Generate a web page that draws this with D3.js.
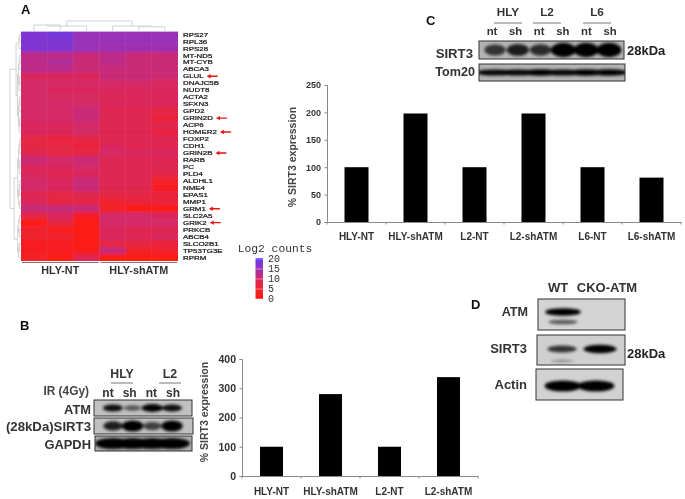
<!DOCTYPE html>
<html><head><meta charset="utf-8">
<script src="https://cdn.jsdelivr.net/npm/d3@7"></script>
<style>
html,body{margin:0;padding:0;background:#fff}
svg{display:block;font-family:"Liberation Sans",Arial,sans-serif}
</style></head><body><svg id="c" width="685" height="499"></svg>
<script>
// ---------- data ----------
const genes=["RPS27","RPL36","RPS28","MT-ND5","MT-CYB","ABCA3","GLUL","DNAJC5B","NUDT8","ACTA2","SFXN3","GPD2","GRIN2D","ACP6","HOMER2","FOXP2","CDH1","GRIN2B","RARB","PC","PLD4","ALDHL1","NME4","EPAS1","MMP1","GRM1","SLC2A5","GRIK2","PRKCB","ABCB4","SLCO2B1","TP53TG3E","RPRM"];
const flagged=["GLUL","GRIN2D","HOMER2","GRIN2B","GRM1","GRIK2"];
const counts=[
[17,18,15,15,15,15],[17,17,15,15,15,15],[17,17,15,14.5,14.5,14.5],[12,12,11,12,11,11],[12,13,11,12,11,11],[12,12,11,11,11,11],
[9,9,9,11,11,10.5],[10,10,10,10,10,9.5],[10,9,9,9,9,9],[10,9.5,9.5,8.5,9,9],[10,10,10,9,9,9],[10,10,11,8,8,7],
[10,10,11,8,8,6],[9,9,10,8,8,7.5],[9,9,10,8,8,6.5],[7,6,7,8,8,8],[7,7,6,9,8,8],[8,7,7,10,9,9],
[11,10,11,8,8,8],[9,9,10,8,8,8],[9,8,9,8,8,7.5],[10,9,11,8,8,4],[10,9,11,8,8,3],[8,7,8,7,7,6],
[9,7,7,5,6,6],[11,11,11,4,1,1],[7,9,3,10,10,9],[1,7,1,10,10,10],[5,2,1,9,8,8],[5,5,1,9,8,9],
[3,3,1,7,7,6],[3,3,2,11,4,5],[4,1,8,1,1,1]];
const colGroups=["HLY-NT","HLY-shATM"];
const legendTicks=[20,15,10,5,0];
const catC=["HLY-NT","HLY-shATM","L2-NT","L2-shATM","L6-NT","L6-shATM"];
const valC=[100,198,100,198,100,81];
const catB=["HLY-NT","HLY-shATM","L2-NT","L2-shATM"];
const valB=[100,280,100,338];
const ticksC=[0,50,100,150,200,250];
const ticksB=[0,100,200,300,400];
const laneNames=["nt","sh"];
const blotB_ATM=[.8,.35,1,.8], blotB_SIRT3=[.7,1,.5,1], blotB_GAPDH=[1,1,1,1];
const blotC_SIRT3=[.55,.7,.6,1,1,1], blotC_Tom20=[.85,.85,1,.85,.9,.9];
const blotD_ATM=[1,0], blotD_ATMlow=[.4,0], blotD_SIRT3=[.6,.95], blotD_SIRT3low=[.12,0], blotD_Actin=[1,1];

// ---------- setup ----------
const svg=d3.select("#c");
const defs=svg.append("defs");
const mkBlur=(id,s)=>defs.append("filter").attr("id",id).attr("x","-20%").attr("y","-60%").attr("width","140%").attr("height","220%").append("feGaussianBlur").attr("stdDeviation",s);
mkBlur("soft",0.45);mkBlur("band",1.5);mkBlur("heat",1.3);
const root=svg.append("g").attr("filter","url(#soft)");
const ink="#222";
function text(x,y,s,o={}){return root.append("text").attr("x",x).attr("y",y).attr("dominant-baseline","central")
  .attr("text-anchor",o.a||"start").attr("font-size",o.s||10).attr("font-weight",o.w||"bold").attr("fill",o.c||ink)
  .attr("font-family",o.f||null).attr("transform",o.r?`rotate(${o.r} ${x} ${y})`:null).text(s);}

// ---------- panel A ----------
[["A",21,9],["B",20,325],["C",426,20],["D",471,304]].forEach(d=>text(d[1],d[2],d[0],{s:13,c:"#111"}));
const hx=d3.scaleBand().domain(d3.range(6)).range([21,178]);
const hy=d3.scaleBand().domain(genes).range([31,261]);
const heat=d3.scaleLinear().domain([0,5,10,15,20]).range(["#ff1a0c","#f0222e","#d42a68","#9a30b8","#5a3cf5"]);
defs.append("clipPath").attr("id","hclip").append("rect").attr("x",21).attr("y",31).attr("width",157).attr("height",230);
const hg=root.append("g").attr("clip-path","url(#hclip)").append("g").attr("filter","url(#heat)");
// bleed rows past the clip so the blur does not fade the outer edge
hg.append("rect").attr("x",15).attr("y",25).attr("width",169).attr("height",242).attr("fill","#c02a80");
genes.forEach((g,i)=>{
  hg.append("g").selectAll("rect").data(counts[i]).join("rect")
    .attr("x",(d,j)=>hx(j)-(j===0?6:0)).attr("y",hy(g)-(i===0?6:0))
    .attr("width",(d,j)=>hx.bandwidth()+.5+(j===0||j===5?6:0)).attr("height",hy.bandwidth()+.5+(i===0||i===32?6:0))
    .attr("fill",d=>heat(d));
});
// faint cell grid
root.append("g").selectAll("line").data(d3.range(1,6)).join("line").attr("x1",d=>hx(d)).attr("x2",d=>hx(d)).attr("y1",31).attr("y2",261).attr("stroke","#fff").attr("stroke-opacity",.1).attr("stroke-width",.7);
root.append("g").selectAll("line").data(genes.slice(1)).join("line").attr("y1",d=>hy(d)).attr("y2",d=>hy(d)).attr("x1",21).attr("x2",178).attr("stroke","#fff").attr("stroke-opacity",.05).attr("stroke-width",.6);
root.append("rect").attr("x",21).attr("y",31).attr("width",157).attr("height",1).attr("fill","#c9b0f0");
const labelScale=1.32;
const geneLabels=root.append("g").selectAll("text").data(genes).join("text")
  .attr("transform",d=>`translate(183,${hy(d)+hy.bandwidth()/2}) scale(${labelScale},1)`)
  .attr("dominant-baseline","central").attr("font-size",6).attr("fill","#222").attr("stroke","#222").attr("stroke-width",.25).text(d=>d);
flagged.forEach(g=>{
  const y=hy(g)+hy.bandwidth()/2;
  const node=geneLabels.filter(d=>d===g).node();
  const x=183+node.getComputedTextLength()*labelScale+3;
  root.append("path").attr("d",`M${x} ${y}l4 -2.2v1.5h7v1.4h-7v1.5z`).attr("fill","#e8150f");
});
// dendrograms: a node is a leaf index, or {k:[a,b],h}
function drawTree(n,pos,hgt,horizontal){
  if(typeof n==="number")return {p:pos(n),h:0};
  const a=drawTree(n.k[0],pos,hgt,horizontal),b=drawTree(n.k[1],pos,hgt,horizontal);
  const path=horizontal
    ?`M${a.p} ${hgt(a.h)}V${hgt(n.h)}H${b.p}V${hgt(b.h)}`
    :`M${hgt(a.h)} ${a.p}H${hgt(n.h)}V${b.p}H${hgt(b.h)}`;
  root.append("path").attr("d",path).attr("fill","none").attr("stroke","#cdcdcd").attr("stroke-width",.9);
  return {p:(a.p+b.p)/2,h:n.h};
}
const colTree={h:1,k:[{h:.5,k:[{h:.6,k:[0,1]},2]},{h:.5,k:[3,{h:.42,k:[4,5]}]}]};
const bal=(a,b,h)=>{if(a===b)return a;const m=Math.floor((a+b)/2);return {h,k:[bal(a,m,h*.72),bal(m+1,b,h*.72)]};};
const rowTree={h:1,k:[{h:.45,k:[bal(0,2,.2),bal(3,14,.32)]},{h:.62,k:[bal(15,25,.3),bal(26,32,.3)]}]};
drawTree(colTree,j=>hx(j)+hx.bandwidth()/2,d3.scaleLinear().domain([0,1]).range([31,21]),true);
drawTree(rowTree,i=>hy(genes[i])+hy.bandwidth()/2,d3.scaleLinear().domain([0,1]).range([21,10]),false);
// column group bars and labels
colGroups.forEach((g,i)=>{
  const a=hx(i*3),b=hx(i*3+2)+hx.bandwidth();
  root.append("line").attr("x1",a+1).attr("x2",b-1).attr("y1",262.5).attr("y2",262.5).attr("stroke","#777").attr("stroke-width",1.2);
  text((a+b)/2,269.5,g,{a:"middle",s:10.8,c:"#333"});
});
// legend
const lg=defs.append("linearGradient").attr("id","lg").attr("x1",0).attr("x2",0).attr("y1",0).attr("y2",1);
legendTicks.forEach((v,i)=>lg.append("stop").attr("offset",i/4).attr("stop-color",heat(v)));
const ly=d3.scalePoint().domain(legendTicks).range([259,299]);
root.append("rect").attr("x",255.5).attr("y",258).attr("width",7.5).attr("height",41).attr("fill","url(#lg)");
text(275,249,"Log2 counts",{a:"middle",s:11.3,w:"normal",f:"'Liberation Mono',monospace",c:"#333"});
legendTicks.forEach(v=>{
  text(268,ly(v),v,{s:10,w:"normal",f:"'Liberation Mono',monospace",c:"#333"});
  root.append("line").attr("x1",254).attr("x2",265).attr("y1",ly(v)).attr("y2",ly(v)).attr("stroke","#fff").attr("stroke-opacity",.6).attr("stroke-width",.7);
});

// ---------- bar charts ----------
function bars(cats,vals,ticks,x0,x1,yTop,yBot,yMax,bw,labY,titleX,titleY,tickSize){
  const x=d3.scaleBand().domain(cats).range([x0,x1]);
  const y=d3.scaleLinear().domain([0,yMax]).range([yBot,yTop]);
  root.append("g").selectAll("rect").data(vals).join("rect")
    .attr("x",(d,i)=>x(cats[i])+(x.bandwidth()-bw)/2).attr("y",d=>y(d)).attr("width",bw).attr("height",d=>yBot-y(d)).attr("fill","#000");
  const ax=root.append("g").attr("transform",`translate(0,${yBot})`).call(d3.axisBottom(x).tickValues([]).tickSize(0));
  ax.select(".domain").attr("stroke","#888").attr("stroke-width",1);
  const grid=d3.range(cats.length+1).map(i=>x0+i*x.step());
  root.append("g").selectAll("line").data(grid).join("line").attr("x1",d=>d).attr("x2",d=>d).attr("y1",yBot).attr("y2",yBot+2.5).attr("stroke","#888");
  const ay=root.append("g").attr("transform",`translate(${x0},0)`).call(d3.axisLeft(y).tickValues(ticks).tickSize(2.5).tickFormat(d3.format("d")));
  ay.selectAll(".domain,line").attr("stroke","#888");
  ay.select(".domain").attr("stroke-width",1);
  ay.selectAll("text").attr("font-size",tickSize).attr("font-weight","bold").attr("fill","#333").attr("font-family","Liberation Sans").attr("dy","0.32em").attr("x",-6);
  cats.forEach(c=>text(x(c)+x.bandwidth()/2,labY,c,{a:"middle",s:10,c:"#333"}));
  text(titleX,titleY,"% SIRT3 expression",{a:"middle",s:10.5,r:-90,c:"#444"});
}
bars(catC,valC,ticksC,327,681,85,222,250,24,236,292,157,9);
bars(catB,valB,ticksB,242,478,359,476,400,23,491,204,412,10.5);

// ---------- western blots ----------
function blot(x0,x1,y0,y1,laneA,laneB,vals,o={}){
  const n=vals.length;
  const lx=d3.scaleLinear().domain([0,n-1]).range([laneA,laneB]);
  const id="clip"+Math.round(x0)+"_"+Math.round(y0);
  defs.append("clipPath").attr("id",id).append("rect").attr("x",x0).attr("y",y0).attr("width",x1-x0).attr("height",y1-y0);
  const g=root.append("g");
  g.append("rect").attr("x",x0).attr("y",y0).attr("width",x1-x0).attr("height",y1-y0).attr("fill",o.bg||"#c0c0c0");
  const inner=g.append("g").attr("clip-path",`url(#${id})`).append("g").attr("filter","url(#band)");
  const w=o.w||(Math.abs(laneB-laneA)/(n-1))*.98;
  const layer=(vs,cy,h)=>inner.append("g").selectAll("ellipse").data(vs).join("ellipse")
    .attr("cx",(d,i)=>lx(i)).attr("cy",cy)
    .attr("rx",d=>w*(.38+.18*d)).attr("ry",d=>h*(.55+.55*d))
    .attr("fill","#050505").attr("opacity",d=>d===0?0:Math.min(1,.25+.85*d));
  if(o.low)layer(o.low,o.lowY,o.lowH||3);
  layer(vals,o.cy!==undefined?o.cy:(y0+y1)/2,o.h||5);
  g.append("rect").attr("x",x0).attr("y",y0).attr("width",x1-x0).attr("height",y1-y0).attr("fill","none").attr("stroke","#333").attr("stroke-width",1);
}
function laneLabels(a,b,n,y,s){
  const lx=d3.scaleLinear().domain([0,n-1]).range([a,b]);
  d3.range(n).forEach(i=>text(lx(i),y,laneNames[i%2],{a:"middle",s:s,c:"#333"}));
}
function group(name,cx,y,lineY,half,s){
  text(cx,y,name,{a:"middle",s:s,c:"#333"});
  root.append("line").attr("x1",cx-half).attr("x2",cx+half).attr("y1",lineY).attr("y2",lineY).attr("stroke","#777").attr("stroke-width",1);
}
// B
group("HLY",122,374,383,11,12.3);group("L2",170,374,383,11,12.3);
text(89,391,"IR (4Gy)",{a:"end",s:11.9,c:"#444"});
laneLabels(108,173,4,393,12);
blot(94,192,400,416,113,172,blotB_ATM,{h:3.6});
blot(94,193,418,434,113,172,blotB_SIRT3,{h:5});
blot(95,192,436,451,113,172,blotB_GAPDH,{h:5,w:32,bg:"#b0b0b0"});
text(91,409,"ATM",{a:"end",s:12.9,c:"#333"});
text(91,426,"(28kDa)SIRT3",{a:"end",s:13.2,c:"#333"});
text(91,444,"GAPDH",{a:"end",s:12.9,c:"#333"});
// C
group("HLY",508,11,23,14,11.7);group("L2",547,11,23,14,11.7);group("L6",597,11,23,14,11.7);
laneLabels(492,610,6,31,11.3);
blot(479,624,41,59,495,609,blotC_SIRT3,{h:6.5,bg:"#b4b4b4"});
blot(479,625,64,81,495,609,blotC_Tom20,{h:3,w:36,bg:"#b4b4b4"});
text(473,53,"SIRT3",{a:"end",s:13.2,c:"#333"});
text(475,72,"Tom20",{a:"end",s:12.6,c:"#333"});
text(627,50,"28kDa",{s:13,c:"#222"});
// D
text(558,287,"WT",{a:"middle",s:13,c:"#333"});
text(607,287,"CKO-ATM",{a:"middle",s:13,c:"#333"});
blot(538,625,299,330,563,600,blotD_ATM,{cy:312,h:3.5,w:32,bg:"#d4d4d4",low:blotD_ATMlow,lowY:322,lowH:3});
blot(537,625,335,365,562,600,blotD_SIRT3,{cy:349,h:4,w:30,bg:"#cfcfcf",low:blotD_SIRT3low,lowY:361,lowH:2});
blot(536,623,369,400,563,596,blotD_Actin,{cy:386,h:5,w:33,bg:"#d2d2d2"});
text(528,312,"ATM",{a:"end",s:12.6,c:"#333"});
text(527,348,"SIRT3",{a:"end",s:13,c:"#333"});
text(527,384,"Actin",{a:"end",s:13,c:"#333"});
text(627,353,"28kDa",{s:13,c:"#222"});
</script></body></html>
